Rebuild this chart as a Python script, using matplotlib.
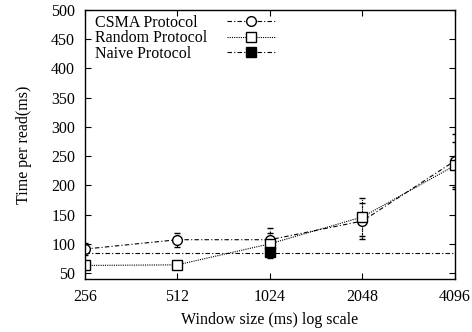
import numpy as np
import matplotlib.pyplot as plt
from matplotlib.lines import Line2D

plt.rcParams['font.family'] = ['Liberation Serif', 'DejaVu Serif']

# window sizes (ms)
window = [256, 512, 1024, 2048, 4096]

csma = [91, 107, 107, 139, 242]
csma_err = [10, 12, 20, 30, 45]

rand = [63, 64, 100, 146, 234]
rand_err = [6, 6, 18, 33, 40]

naive_x = [1024]
naive = [86]
naive_err = [10]
naive_level = 84

labels = ['CSMA Protocol', 'Random Protocol', 'Naive Protocol']

dashdot = (0, (4, 2, 1, 2))
dotted = (0, (1, 1))

fig = plt.figure(figsize=(4.72, 3.32), dpi=100)
ax = fig.add_axes([0.18, 0.16, 0.784, 0.81])

l1 = ax.errorbar(window, csma, yerr=csma_err, color='black', lw=0.8, ls=dashdot,
                 marker='o', mfc='white', mec='black', ms=7, mew=1.0,
                 capsize=2, elinewidth=0.8)
l1[2][0].set_linestyle((0, (2, 2)))
ax.plot(window, csma, ls='none', marker='.', color='black', ms=2)

l2 = ax.errorbar(window, rand, yerr=rand_err, color='black', lw=0.8, ls=dotted,
                 marker='s', mfc='white', mec='black', ms=7, mew=1.0,
                 capsize=2, elinewidth=0.8)
l2[2][0].set_linestyle(dotted)
ax.plot(window, rand, ls='none', marker='+', color='black', ms=5, mew=0.6)

l3 = ax.errorbar(naive_x, naive, yerr=naive_err, color='black', lw=0.8, ls=dashdot,
                 marker='s', mfc='black', mec='black', ms=7,
                 capsize=2, elinewidth=0.8)
l3[2][0].set_linestyle((0, (2, 2)))
ax.axhline(naive_level, color='black', lw=0.8, ls=dashdot)

ax.set_xscale('log', base=2)
ax.set_xlim(256, 4096)
ax.set_xticks(window)
ax.set_xticklabels([str(w) for w in window])
ax.minorticks_off()
ax.set_ylim(40, 500)
ax.set_yticks(np.arange(50, 501, 50))

ax.tick_params(direction='in', top=True, right=True, labelsize=11.5, length=4, pad=7)
for s in ax.spines.values():
    s.set_linewidth(1.0)

ax.set_xlabel('Window size (ms) log scale', fontsize=11.5, labelpad=5)
ax.set_ylabel('Time per read(ms)', fontsize=11.5, labelpad=14)

# gnuplot-like key: text left-aligned, samples on the right
handles = [
    Line2D([], [], color='black', lw=0.8, ls=dashdot, marker='o', mfc='white', mec='black', ms=7),
    Line2D([], [], color='black', lw=0.8, ls=dotted, marker='s', mfc='white', mec='black', ms=7),
    Line2D([], [], color='black', lw=0.8, ls=dashdot, marker='s', mfc='black', mec='black', ms=7),
]
blank = [Line2D([], [], ls='none') for _ in labels]
leg_text = ax.legend(blank, labels, loc='upper left', bbox_to_anchor=(0.014, 1.0),
                     frameon=False, fontsize=11.5, handlelength=0, handletextpad=0,
                     borderaxespad=0.1, borderpad=0.2, labelspacing=-0.03)
ax.add_artist(leg_text)
ax.legend(handles, ['', '', ''], loc='upper left', bbox_to_anchor=(0.37, 1.0),
          frameon=False, fontsize=11.5, handlelength=3.1, handletextpad=0,
          borderaxespad=0.1, borderpad=0.2, labelspacing=-0.03)

fig.savefig('out.png', dpi=100)
